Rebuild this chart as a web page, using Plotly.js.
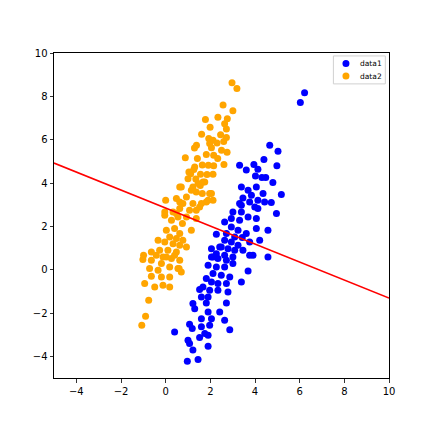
<!DOCTYPE html>
<html>
<head>
<meta charset="utf-8">
<script src="https://cdn.plot.ly/plotly-3.0.1.min.js"></script>
<style>html,body{margin:0;padding:0;background:#fff;}#chart{width:432px;height:432px;}</style>
</head>
<body>
<div id="chart"></div>
<script>
const data1X = [4.66,5.03,4.40,4.98,3.31,3.61,3.95,4.13,4.02,4.31,4.48,4.80,3.39,3.69,4.06,5.18,3.46,3.84,4.36,4.73,3.39,3.76,4.13,4.43,3.99,4.96,4.13,3.31,3.39,3.01,3.69,4.06,2.94,3.31,2.64,4.06,4.58,2.94,3.24,3.61,2.72,3.09,3.43,3.76,4.21,2.64,2.94,3.24,2.49,2.79,3.09,3.46,2.05,2.27,2.64,3.76,4.58,2.12,3.01,2.27,2.42,3.91,2.05,2.34,2.72,1.90,2.27,2.64,3.01,3.69,2.12,2.49,2.87,2.05,2.34,2.72,3.39,1.67,1.52,1.97,2.34,2.79,1.82,1.60,1.90,1.82,1.22,1.30,2.72,1.90,2.42,1.60,2.05,2.64,1.07,1.19,1.60,1.97,2.87,0.40,1.75,1.52,1.00,1.07,1.90,1.22,0.97,1.45,1.90,6.03,6.22];
const data1Y = [5.74,5.46,5.08,4.80,4.82,4.60,4.85,4.63,4.32,4.25,4.25,4.02,3.82,3.66,3.82,3.47,3.31,3.43,3.51,3.10,2.97,3.12,3.20,3.12,2.89,2.59,2.82,3.05,2.66,2.66,2.43,2.36,2.36,2.28,2.20,1.90,1.82,1.97,1.82,1.67,1.67,1.51,1.48,1.28,1.36,1.36,1.28,1.13,1.05,0.97,0.90,0.90,0.97,0.74,0.66,0.66,0.59,0.59,0.59,1.63,1.05,0.66,0.59,0.51,0.43,0.20,0.12,0.12,0.28,-0.06,-0.18,-0.26,-0.34,-0.57,-0.64,-0.64,-0.57,-0.80,-0.92,-0.95,-0.95,-1.03,-0.41,-1.26,-1.26,-1.54,-1.56,-1.80,-1.54,-1.95,-1.95,-2.26,-2.26,-2.34,-2.52,-2.72,-2.64,-2.56,-2.77,-2.88,-2.95,-3.13,-3.26,-3.41,-3.53,-3.71,-4.23,-4.15,-3.03,7.71,8.17];

const data2X = [2.97,3.19,2.57,3.01,1.78,2.34,2.76,2.64,1.99,2.72,1.61,2.46,1.93,2.12,2.72,1.38,1.29,1.97,2.30,2.60,2.05,2.50,2.75,1.82,2.15,0.88,1.42,2.33,2.61,1.64,1.91,2.15,1.26,1.12,1.56,1.85,2.12,1.00,1.35,1.04,1.67,0.70,1.22,1.55,1.37,1.64,1.97,2.12,1.82,0.00,0.48,0.93,0.77,1.22,1.60,-0.04,0.33,0.63,1.07,1.37,0.55,0.93,1.37,0.26,0.75,1.15,0.03,0.40,0.63,0.18,0.48,0.77,-0.34,-0.04,0.33,0.63,0.93,-0.27,0.10,0.48,-0.99,-0.64,-0.42,-0.12,0.26,0.63,-1.02,-0.64,-0.19,0.18,-0.72,-0.34,0.60,0.70,-0.64,-0.19,0.18,-0.94,-0.49,-0.12,0.18,-0.76,-0.90,-1.07,0.03,0.40,0.55,1.30,1.75,1.45,0.63,1.15,2.05,1.90,0.63,1.52,-0.04,0.48];
const data2Y = [8.63,8.36,7.60,7.34,6.93,7.03,6.97,6.74,6.57,6.49,6.25,6.23,6.05,5.97,6.10,5.74,5.62,5.82,5.85,5.91,5.63,5.51,5.42,5.31,5.28,5.17,5.13,5.13,4.85,4.83,4.82,4.80,4.62,4.43,4.40,4.39,4.40,4.20,4.18,4.51,4.05,3.82,3.82,3.89,3.59,3.51,3.51,3.20,3.12,3.20,3.28,3.35,3.05,3.05,3.05,2.51,2.66,2.82,2.74,2.74,2.43,2.43,2.36,2.28,2.13,1.82,1.82,1.90,1.67,1.51,1.44,1.36,1.36,1.28,1.20,1.13,1.05,0.90,0.90,0.82,0.66,0.82,0.66,0.59,0.51,0.43,0.47,0.43,0.28,0.12,0.05,-0.03,0.05,-0.11,-0.30,-0.34,-0.34,-0.64,-0.80,-0.72,-0.80,-1.41,-2.15,-2.56,0.59,0.66,0.05,4.74,4.05,3.98,3.82,3.66,3.51,3.20,3.12,2.89,2.66,2.59];

const lineX = [-5, 10];
const lineY = [4.92, -1.31];

const seriesNames = ['data1', 'data2'];
const seriesColors = ['#0000ff', '#ffa500'];

const traces = [
  {x: data1X, y: data1Y, type: 'scatter', mode: 'markers', name: seriesNames[0],
   marker: {color: seriesColors[0], size: 7, line: {width: 0}}},
  {x: data2X, y: data2Y, type: 'scatter', mode: 'markers', name: seriesNames[1],
   marker: {color: seriesColors[1], size: 7, line: {width: 0}}},
  {x: lineX, y: lineY, type: 'scatter', mode: 'lines', showlegend: false,
   line: {color: '#ff0000', width: 1.5}}
];

const axisCommon = {
  showgrid: false, zeroline: false, showline: true, mirror: true,
  linecolor: '#000', linewidth: 1, ticks: 'outside', ticklen: 3.5,
  tickwidth: 0.8, tickcolor: '#000', dtick: 2, tick0: 0,
  tickfont: {family: 'DejaVu Sans', size: 10, color: '#000'}, automargin: false
};

// compact matplotlib-style legend (box, markers, real text labels)
const legY = [0.968, 0.929];
const shapes = [
  {type: 'rect', xref: 'paper', yref: 'paper', x0: 0.834, x1: 0.989, y0: 0.905, y1: 0.991,
   line: {color: '#d0d0d0', width: 1}, fillcolor: 'rgba(255,255,255,0.8)', layer: 'above'}
];
const annotations = [];
seriesNames.forEach((n, i) => {
  shapes.push({type: 'circle', xref: 'paper', yref: 'paper', xsizemode: 'pixel', ysizemode: 'pixel',
    xanchor: 0.8715, yanchor: legY[i], x0: -3.5, x1: 3.5, y0: -3.5, y1: 3.5,
    fillcolor: seriesColors[i], line: {width: 0}, layer: 'above'});
  annotations.push({xref: 'paper', yref: 'paper', x: 0.908, y: legY[i], xanchor: 'left', yanchor: 'middle',
    text: n, showarrow: false, font: {family: 'DejaVu Sans', size: 7.5, color: '#000'}});
});

const layout = {
  width: 432, height: 432,
  margin: {l: 54, r: 43, t: 53, b: 54},
  paper_bgcolor: '#fff', plot_bgcolor: '#fff',
  xaxis: Object.assign({}, axisCommon, {range: [-5, 10]}),
  yaxis: Object.assign({}, axisCommon, {range: [-5, 10]}),
  showlegend: false,
  shapes: shapes,
  annotations: annotations
};

Plotly.newPlot('chart', traces, layout, {displayModeBar: false, staticPlot: true});
</script>
</body>
</html>
